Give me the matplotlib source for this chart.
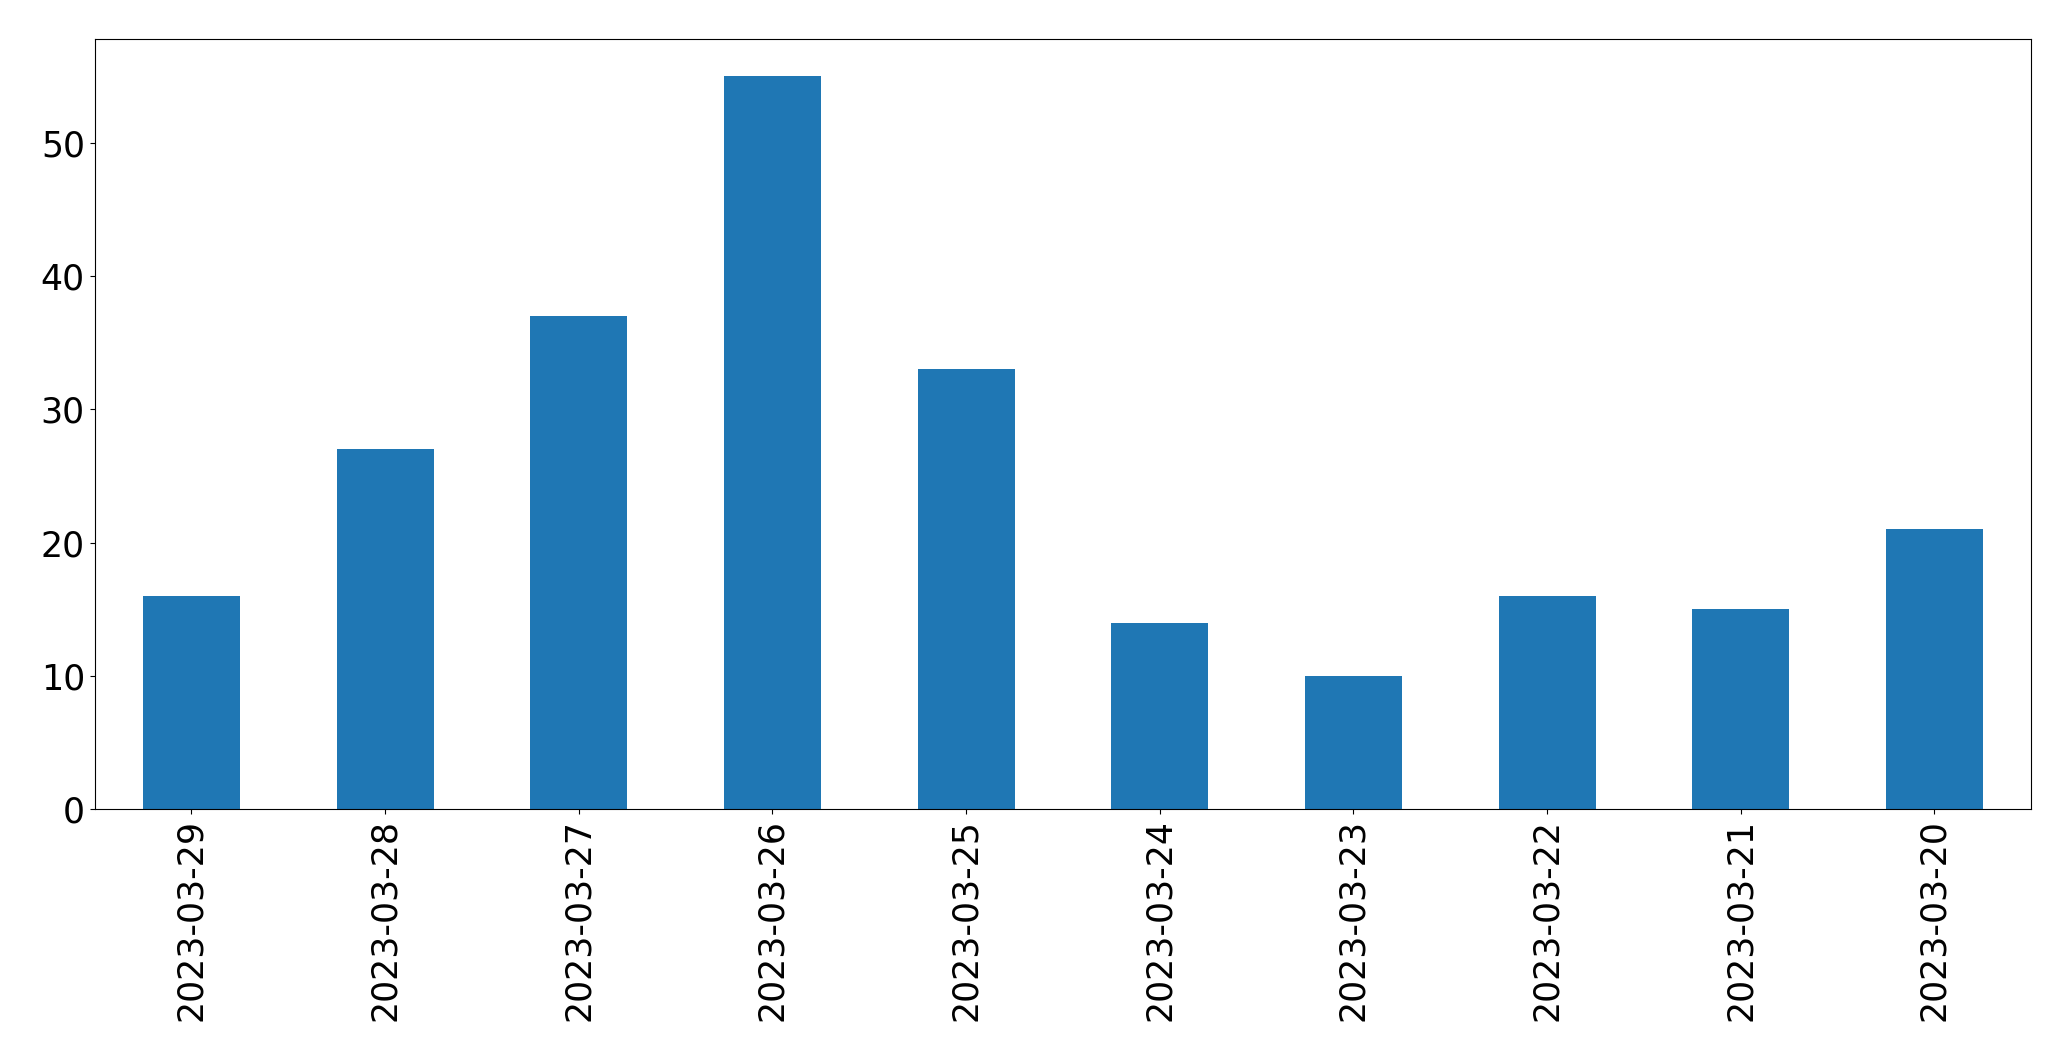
import numpy as np
import pandas as pd
import matplotlib
matplotlib.use("Agg")
import matplotlib.pyplot as plt

dates = ["2023-03-29", "2023-03-28", "2023-03-27", "2023-03-26", "2023-03-25",
         "2023-03-24", "2023-03-23", "2023-03-22", "2023-03-21", "2023-03-20"]
counts = [16, 27, 37, 55, 33, 14, 10, 16, 15, 21]

series = pd.Series(counts, index=dates)

fig = plt.figure(figsize=(20.71, 10.61), dpi=100)
ax = fig.add_axes([0.0457, 0.2372, 0.9351, 0.7258])
series.plot(kind="bar", ax=ax, color="#1f77b4", width=0.5)

ax.tick_params(axis="both", labelsize=25)
plt.setp(ax.get_xticklabels(), rotation=90)

fig.savefig("out.png", dpi=100)
